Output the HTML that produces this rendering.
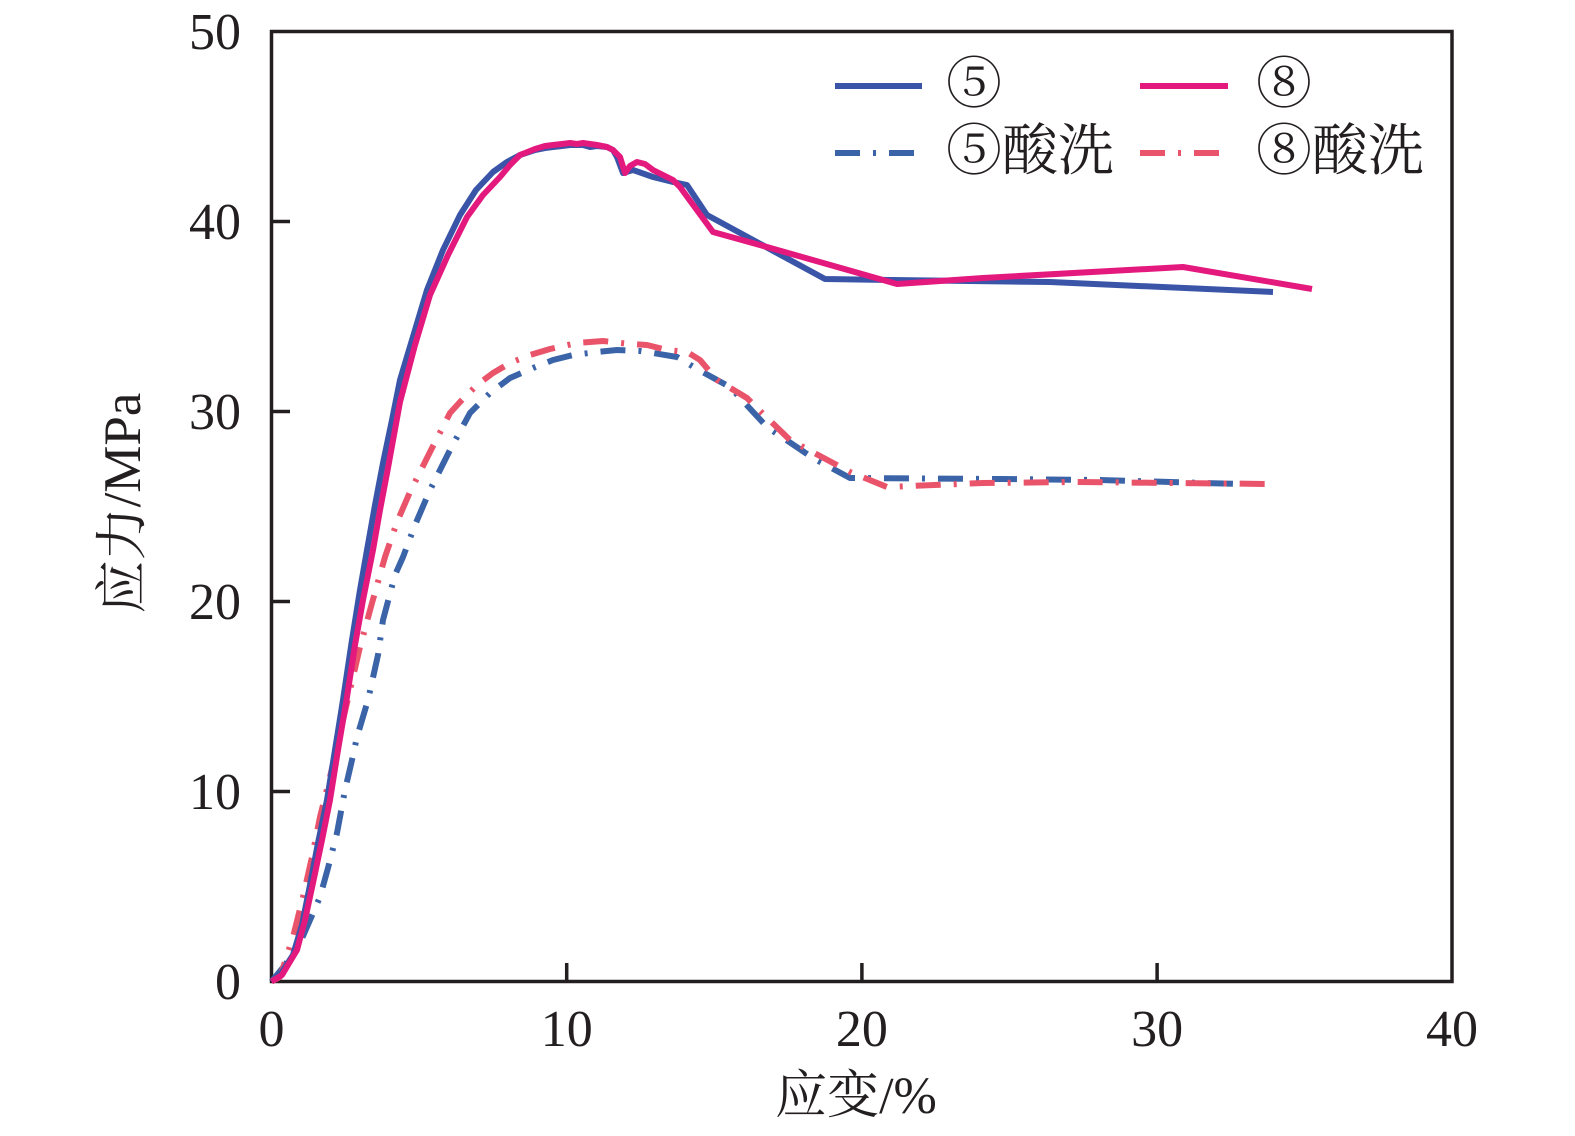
<!DOCTYPE html>
<html><head><meta charset="utf-8"><style>
html,body{margin:0;padding:0;background:#fff;}
svg{display:block;}
text{font-family:"Liberation Serif","Noto Serif CJK SC",serif;fill:#231f20;}
</style></head><body>
<svg width="1575" height="1136" viewBox="0 0 1575 1136" xmlns="http://www.w3.org/2000/svg">
<!-- frame -->
<rect x="271.5" y="31.5" width="1180.5" height="950" fill="none" stroke="#231f20" stroke-width="3.5"/>
<!-- ticks -->
<g stroke="#231f20" stroke-width="3.5">
<line x1="271.5" y1="791.5" x2="290" y2="791.5"/>
<line x1="271.5" y1="601.5" x2="290" y2="601.5"/>
<line x1="271.5" y1="411.5" x2="290" y2="411.5"/>
<line x1="271.5" y1="221.5" x2="290" y2="221.5"/>
<line x1="566.7" y1="981.5" x2="566.7" y2="963"/>
<line x1="861.9" y1="981.5" x2="861.9" y2="963"/>
<line x1="1157.1" y1="981.5" x2="1157.1" y2="963"/>
</g>
<!-- y tick labels -->
<g font-size="52" text-anchor="end">
<text x="241" y="999">0</text>
<text x="241" y="809">10</text>
<text x="241" y="619">20</text>
<text x="241" y="429">30</text>
<text x="241" y="239">40</text>
<text x="241" y="49">50</text>
</g>
<!-- x tick labels -->
<g font-size="52" text-anchor="middle">
<text x="271.5" y="1046">0</text>
<text x="566.7" y="1046">10</text>
<text x="861.9" y="1046">20</text>
<text x="1157.1" y="1046">30</text>
<text x="1452" y="1046">40</text>
</g>
<!-- axis titles -->
<text x="856" y="1113" font-size="52" text-anchor="middle">应变/%</text>
<text transform="translate(140,503) rotate(-90)" font-size="53" text-anchor="middle">应力/MPa</text>

<!-- series -->
<g fill="none" stroke-linejoin="round" stroke-linecap="butt">
<!-- 5 acid -->
<polyline stroke="#3b64a8" stroke-width="6" stroke-dasharray="25 13 3 13" points="271.5,981.5 285,965 300,943 310,920 320,897 328,868 337,833 345,790 352,760 357,737 368,700 378,655 383,620 387,605 395,575 403,557 415,525 430,490 450,450 470,413 490,393 510,378 533,368 553,360 573,355 597,352 617,350 640,351 653,353 677,357 697,369 730,387 767,427 813,458 850,478 1000,479 1100,480 1240,484"/>
<!-- 8 acid -->
<polyline stroke="#e9546b" stroke-width="6" stroke-dasharray="25 13 3 13" points="271.5,981.5 280,977 293,937 303,897 312,857 320,817 330,777 340,733 350,690 360,647 372,603 385,557 397,522 410,492 430,452 450,413 460,402 477,385 493,373 510,363 530,355 550,349 577,343 603,341 630,344 647,345 667,350 687,352 700,360 717,380 747,398 757,408 790,440 850,472 887,487 983,483 1077,482 1270,484"/>
<!-- 5 -->
<polyline stroke="#3a55a8" stroke-width="6" points="271.5,981.5 280,975 293,955 302,925 310,885 318,843 327,800 335,750 343,700 352,640 360,590 367,550 375,505 383,463 392,420 400,380 412,340 427,290 443,250 460,215 476,190 493,172 507,162 520,155 535,150 545,148 553,147 562,146 570,145 583,145 590,147 597,146 607,147 613,150 617,157 623,173 633,170 653,177 673,182 687,185 707,215 825,279 893,280 1050,282 1273,292"/>
<!-- 8 -->
<polyline stroke="#e4197e" stroke-width="6" points="271.5,981.5 282,975 297,950 305,920 313,883 322,840 330,800 338,750 347,697 355,645 363,600 373,550 380,510 388,468 400,402 415,345 430,295 448,255 467,217 483,195 500,177 510,165 520,155 535,149 545,146 553,145 562,144 570,143 577,144 583,143 597,145 607,147 613,150 620,157 625,173 630,166 637,162 645,164 653,170 673,180 680,187 713,232 767,247 897,284 983,278 1183,267 1312,289"/>
</g>

<!-- legend -->
<g stroke-width="6" fill="none">
<line x1="835" y1="86" x2="922" y2="86" stroke="#3a55a8"/>
<line x1="1140" y1="86" x2="1228" y2="86" stroke="#e4197e"/>
<line x1="835" y1="153" x2="916" y2="153" stroke="#3b64a8" stroke-dasharray="25 13 3 13"/>
<line x1="1140" y1="153" x2="1222" y2="153" stroke="#e9546b" stroke-dasharray="25 13 3 13"/>
</g>
<g font-size="56">
<text x="946" y="103">⑤</text>
<text x="1256" y="103">⑧</text>
<text x="946" y="170">⑤酸洗</text>
<text x="1256" y="170">⑧酸洗</text>
</g>
</svg>
</body></html>
